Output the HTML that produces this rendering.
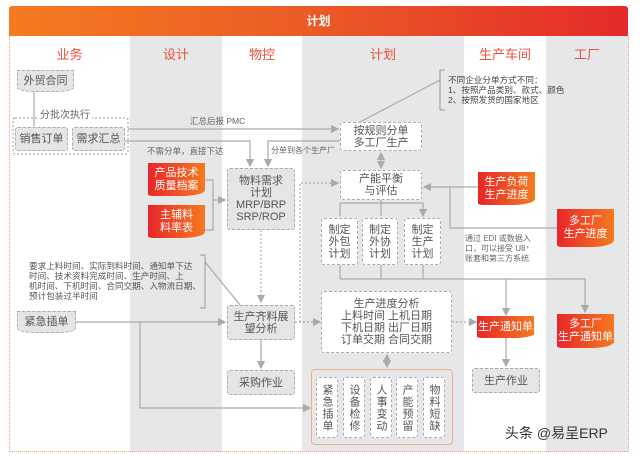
<!DOCTYPE html>
<html><head><meta charset="utf-8"><style>
body{margin:0;width:640px;height:456px;background:#fff;position:relative;overflow:hidden;font-family:"Liberation Sans","Noto Sans CJK SC",sans-serif;}
.a{position:absolute;}
.col{position:absolute;top:36px;height:416px;background:#e6e7e9;}
.hd{position:absolute;top:44px;font-size:13px;color:#e8503a;text-align:center;}
.bx{position:absolute;border:1px dashed #aaa;border-radius:3px;background:#fff;color:#555;font-size:11px;text-align:center;display:flex;align-items:center;justify-content:center;line-height:12px;box-sizing:border-box;}
.g{background:#e4e5e7;}
.or{position:absolute;background:linear-gradient(90deg,#e8262a,#f47a20);color:#fff;font-size:11px;text-align:center;display:flex;align-items:center;justify-content:center;line-height:13px;box-sizing:border-box;border-radius:0 0 40% 10%/0 0 18% 5%;}
.t{position:absolute;font-size:8px;color:#666;line-height:10px;}
.v{writing-mode:vertical-rl;letter-spacing:1px;font-size:11px;}
</style></head><body>
<div class="col" style="left:130px;width:92px"></div>
<div class="col" style="left:302px;width:162px"></div>
<div class="col" style="left:546px;width:82px"></div>
<div class="a" style="left:9px;top:36px;width:618px;height:415px;border:1px dotted #f0a070;border-top:none"></div>
<div class="a" style="left:9px;top:6px;width:619px;height:30px;background:linear-gradient(90deg,#f47a20,#ea5a26 50%,#e42a2a);border-radius:3px 3px 0 0;color:#fff;font-weight:bold;font-size:12px;line-height:30px;text-align:center">计划</div>
<div class="hd" style="left:9px;width:121px">业务</div>
<div class="hd" style="left:130px;width:92px">设计</div>
<div class="hd" style="left:222px;width:80px">物控</div>
<div class="hd" style="left:302px;width:162px">计划</div>
<div class="hd" style="left:464px;width:82px">生产车间</div>
<div class="hd" style="left:546px;width:82px">工厂</div>

<svg class="a" style="left:0;top:0" width="640" height="456">
<defs><marker id="m" markerWidth="7" markerHeight="7" refX="6" refY="3.5" orient="auto"><path d="M0,0 L7,3.5 L0,7z" fill="#aaa"/></marker></defs>
<g stroke="#aaa" stroke-width="1.2" fill="none">
<path d="M34 92 V126"/>
<path d="M128 129 H338" marker-end="url(#m)"/>
<path d="M125 141 H250 V166" marker-end="url(#m)"/>
<path d="M340 141 H268 V166" marker-end="url(#m)"/>
<path d="M205 180 H213 V230 H205 M213 200 H225" marker-end="url(#m)"/>
<path d="M381 153 V168" marker-end="url(#m)"/><path d="M381 168 V153" marker-end="url(#m)"/>
<path d="M360 122 L440 80"/>
<path d="M478 187 H424" marker-end="url(#m)"/>
<path d="M557 228 H450 V187"/>
<path d="M340 203 V216 M381 200 V216 M423 203 V216" marker-end="url(#m)"/>
<path d="M340 203 H423"/>
<path d="M340 265 V279 M381 265 V279 M423 265 V279 M340 279 H585 V312" marker-end="url(#m)"/>
<path d="M506 279 V315" marker-end="url(#m)"/>
<path d="M506 338 V366" marker-end="url(#m)"/>
<path d="M261 340 V368" marker-end="url(#m)"/>
<path d="M76 322 H225" marker-end="url(#m)"/>
<path d="M140 322 V408 H310" marker-end="url(#m)"/>
<path d="M205 262 L240 305"/>
<path d="M387 355 V367" marker-end="url(#m)"/><path d="M387 367 V355" marker-end="url(#m)"/>
</g>
<g stroke="#aaa" stroke-width="1.2" fill="none" stroke-dasharray="2,2">
<path d="M261 230 V302" marker-end="url(#m)"/>
<path d="M300 322 V183 H338" marker-end="url(#m)"/>
<path d="M295 322 H320" marker-end="url(#m)"/>
<path d="M452 322 H476" marker-end="url(#m)"/>
<rect x="13" y="118" width="115" height="36" rx="2"/>
</g>
<g stroke="#999" fill="none"><path d="M445 70 H440 V110 H445"/><path d="M200 255 H205 V308 H200"/></g>
</svg>

<div class="bx g" style="left:17px;top:70px;width:57px;height:22px;border-radius:0 0 30% 30%/0 0 20% 20%">外贸合同</div>
<div class="t" style="left:38px;top:111px;font-size:10px;background:#fff;padding:0 2px">分批次执行</div>
<div class="bx g" style="left:15px;top:127px;width:53px;height:24px">销售订单</div>
<div class="bx g" style="left:72px;top:127px;width:53px;height:24px">需求汇总</div>
<div class="t" style="left:190px;top:116px;font-size:8.5px">汇总后报 PMC</div>
<div class="t" style="left:147px;top:146px;font-size:8.5px">不需分单，直接下达</div>
<div class="t" style="left:271px;top:146px">分单到各个生产厂</div>
<div class="or" style="left:148px;top:163px;width:57px;height:33px">产品技术<br>质量档案</div>
<div class="or" style="left:148px;top:205px;width:57px;height:33px">主辅料<br>料率表</div>
<div class="bx g" style="left:227px;top:168px;width:68px;height:62px">物料需求<br>计划<br>MRP/BRP<br>SRP/ROP</div>
<div class="bx" style="left:340px;top:122px;width:82px;height:29px">按规则分单<br>多工厂生产</div>
<div class="bx" style="left:340px;top:170px;width:82px;height:30px">产能平衡<br>与评估</div>
<div class="bx" style="left:321px;top:218px;width:37px;height:47px">制定<br>外包<br>计划</div>
<div class="bx" style="left:362px;top:218px;width:36px;height:47px">制定<br>外协<br>计划</div>
<div class="bx" style="left:404px;top:218px;width:37px;height:47px">制定<br>生产<br>计划</div>
<div class="t" style="left:448px;top:75px;color:#444;font-size:8.6px">不同企业分单方式不同：<br>1、按照产品类别、款式、颜色<br>2、按照发货的国家地区</div>
<div class="or" style="left:478px;top:172px;width:57px;height:33px">生产负荷<br>生产进度</div>
<div class="or" style="left:557px;top:209px;width:57px;height:38px">多工厂<br>生产进度</div>
<div class="t" style="left:465px;top:234px">通过 EDI 或数据入<br>口，可以接受 U8⁺<br>账套和第三方系统</div>
<div class="t" style="left:29px;top:261px;color:#555;font-size:8.6px">要求上料时间、实际到料时间、通知单下达<br>时间、技术资料完成时间、生产时间、上<br>机时间、下机时间、合同交期、入物流日期、<br>预计包装过半时间</div>
<div class="bx g" style="left:17px;top:311px;width:59px;height:22px;border-radius:0 0 30% 30%/0 0 20% 20%">紧急插单</div>
<div class="bx g" style="left:227px;top:305px;width:68px;height:35px">生产齐料展<br>望分析</div>
<div class="bx g" style="left:227px;top:370px;width:68px;height:25px">采购作业</div>
<div class="bx" style="left:321px;top:291px;width:131px;height:62px;font-size:11px">生产进度分析<br>上料时间 上机日期<br>下机日期 出厂日期<br>订单交期 合同交期</div>
<div class="or" style="left:477px;top:316px;width:57px;height:22px">生产通知单</div>
<div class="or" style="left:557px;top:314px;width:57px;height:34px">多工厂<br>生产通知单</div>
<div class="bx g" style="left:472px;top:368px;width:68px;height:25px">生产作业</div>
<div class="a" style="left:311px;top:369px;width:142px;height:76px;border:1px solid #f0b090;border-radius:4px;box-sizing:border-box"></div>
<div class="bx v" style="left:316px;top:377px;width:22px;height:61px">紧急插单</div>
<div class="bx v" style="left:343px;top:377px;width:22px;height:61px">设备检修</div>
<div class="bx v" style="left:370px;top:377px;width:22px;height:61px">人事变动</div>
<div class="bx v" style="left:396px;top:377px;width:22px;height:61px">产能预留</div>
<div class="bx v" style="left:423px;top:377px;width:22px;height:61px">物料短缺</div>
<div class="a" style="left:505px;top:423px;font-size:14px;color:#333">头条 @易呈ERP</div>
</body></html>
